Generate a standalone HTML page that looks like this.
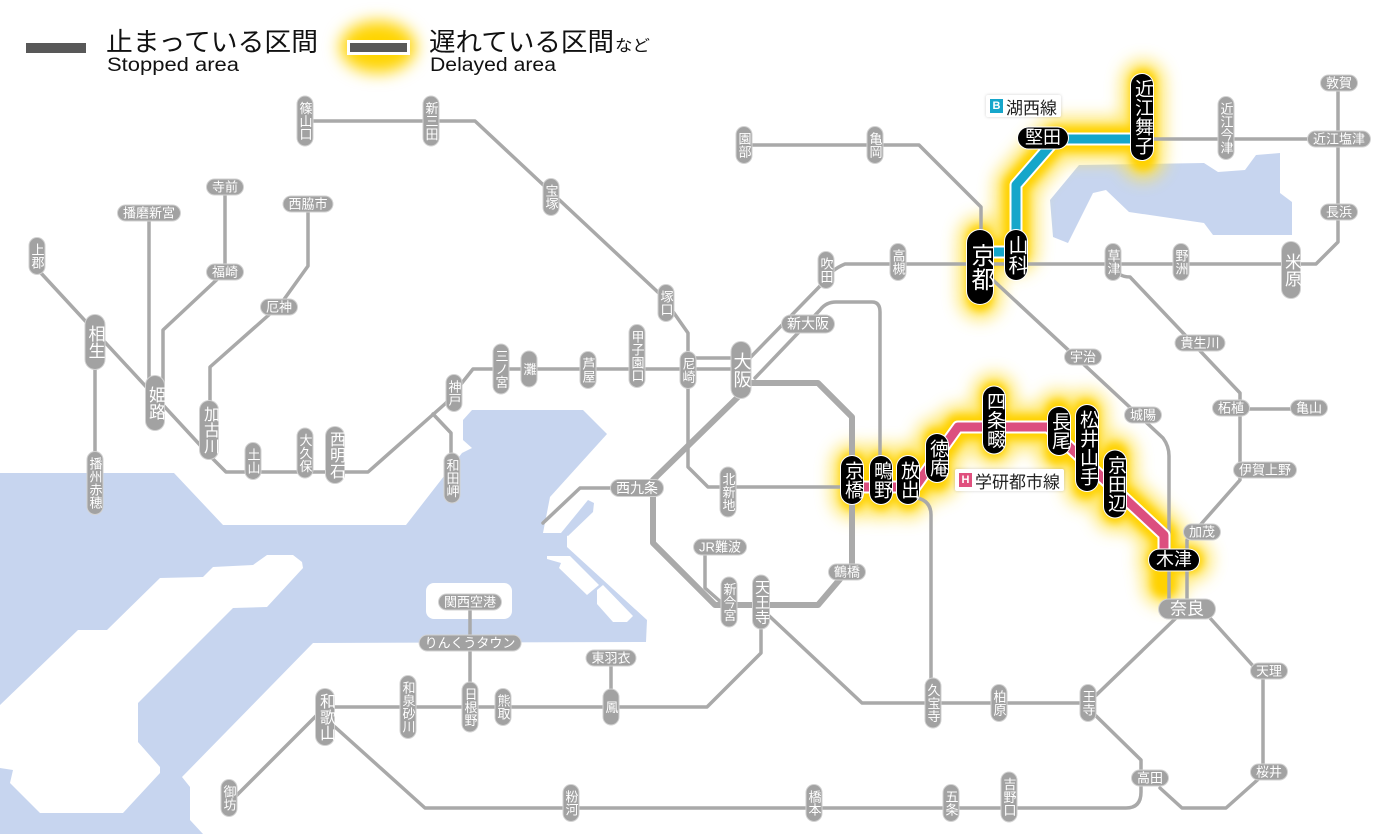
<!DOCTYPE html>
<html><head><meta charset="utf-8">
<style>
html,body{margin:0;padding:0;background:#fff;}
#c{position:relative;width:1400px;height:834px;overflow:hidden;background:#fff;font-family:"Liberation Sans","Noto Sans CJK JP",sans-serif;}
svg{position:absolute;left:0;top:0;}
.p{position:absolute;transform:translate(-50%,-50%);background:#a2a2a2;color:#fff;border-radius:9px;box-shadow:0 0 0 1px #d2d2d2;white-space:nowrap;text-align:center;font-family:"Liberation Sans","Noto Sans CJK JP",sans-serif;}
.v{writing-mode:vertical-rl;text-orientation:upright;font-size:13px;line-height:15px;width:15px;padding:5px 0;}
.h{font-size:13px;line-height:15px;height:15px;padding:0 5px;}
.k{background:#000;box-shadow:0 0 0 1px #fff;border-radius:11px;}
.kv{writing-mode:vertical-rl;text-orientation:upright;font-size:19px;line-height:22px;width:22px;padding:5px 0;}
.kh{font-size:18px;line-height:21px;height:21px;padding:0 7px;}
.lb{position:absolute;background:#fff;box-shadow:0 0 3px rgba(0,0,0,0.18);display:flex;align-items:center;font-family:"Liberation Sans","Noto Sans CJK JP",sans-serif;font-size:17px;color:#222;height:22px;padding:0 4px;border-radius:2px;}
.sq{display:inline-block;width:13px;height:14px;color:#fff;font-size:11px;line-height:14px;text-align:center;font-weight:bold;margin-right:3px;}
</style></head>
<body><div id="c">
<svg width="1400" height="834" viewBox="0 0 1400 834">
<defs>
<filter id="b8" x="-50%" y="-50%" width="200%" height="200%"><feGaussianBlur stdDeviation="8"/></filter>
<filter id="b4" x="-50%" y="-50%" width="200%" height="200%"><feGaussianBlur stdDeviation="4"/></filter>
</defs>
<!-- water -->
<g fill="#c7d5ef">
<polygon points="0,473 174,473 223,525 406,525 462,453 472,448 463,440 463,420 472,410 583,410 607,434 550,497 543,533 567,533 567,547 647,620 646,642 313,643 182,777 190,787 190,820 203,834 0,834"/>
<polygon points="588,500 594,503 593,512 568,536 561,533"/>
<polygon points="1050,200 1079,165 1204,163 1218,172 1245,170 1256,155 1280,153 1280,193 1292,202 1292,235 1213,235 1204,223 1129,212 1106,190 1093,193 1068,243 1053,237"/>
</g>
<g fill="#fff">
<polygon points="0,705 78,630 107,630 160,578 203,577 213,567 253,565 267,555 293,555 302,562 303,568 267,607 233,608 143,698 138,703 138,742 160,767 160,773 123,813 40,813 10,783 13,770 0,768"/>
<polygon points="547,559 561,563 559,568 587,595 599,585 570,556 547,556"/>
<polygon points="597,590 603,585 633,616 627,622 613,622 597,604"/>
<rect x="426" y="583" width="86" height="36" rx="8"/>
</g>
<!-- legend -->
<ellipse cx="378" cy="47" rx="38" ry="26" fill="#ffd400" filter="url(#b8)"/>
<rect x="26" y="43" width="60" height="10" fill="#585858"/>
<rect x="347" y="40" width="63" height="15" fill="#fff"/>
<rect x="350" y="43" width="57" height="9" fill="#585858"/>
<g font-family="'Liberation Sans','Noto Sans CJK JP',sans-serif" fill="#111">
<text x="106" y="51" font-size="26" textLength="212" lengthAdjust="spacingAndGlyphs">止まっている区間</text>
<text x="107" y="71" font-size="19" textLength="132" lengthAdjust="spacingAndGlyphs">Stopped area</text>
<text x="429" y="51" font-size="26" textLength="185" lengthAdjust="spacingAndGlyphs">遅れている区間</text>
<text x="615" y="51" font-size="16" textLength="35" lengthAdjust="spacingAndGlyphs">など</text>
<text x="430" y="71" font-size="19" textLength="126" lengthAdjust="spacingAndGlyphs">Delayed area</text>
</g>
<!-- glow -->
<g fill="none" stroke-linecap="round" stroke-linejoin="round">
<path d="M980,238V298 M983,252H1016V185L1056,139H1143 M1143,82V158" stroke="#ffe24a" stroke-width="44" filter="url(#b8)" opacity="0.8"/>
<path d="M980,238V298 M983,252H1016V185L1056,139H1143 M1143,82V158" stroke="#ffd200" stroke-width="26" filter="url(#b4)"/>
<path d="M853,465V497 M853,487H915L958,427H1048L1164,535V585 M881,465V497 M908,465V497 M937,440V478 M994,395V445 M1058,412V452 M1086,412V486 M1115,455V510 M1160,560H1190" stroke="#ffe24a" stroke-width="44" filter="url(#b8)" opacity="0.8"/>
<path d="M853,465V497 M853,487H915L958,427H1048L1164,535V585 M881,465V497 M908,465V497 M937,440V478 M994,395V445 M1058,412V452 M1086,412V486 M1115,455V510 M1160,560H1190" stroke="#ffd200" stroke-width="26" filter="url(#b4)"/>
</g>
<!-- gray lines -->
<g fill="none" stroke="#a9a9a9" stroke-width="3.5" stroke-linejoin="round" stroke-linecap="round">
<path d="M305,121H475L662,296L688,333V467L708,487H853"/>
<path d="M40,272L212,458L226,472H368L446,403L473,369H742"/>
<path d="M688,358H742"/>
<path d="M95,340V485"/>
<path d="M149,213V400"/>
<path d="M225,187V272L163,330V400"/>
<path d="M308,203V266L280,305L210,367V430"/>
<path d="M433,414L451,433V478"/>
<path d="M742,366L822,284Q830,270 845,264H1316L1338,242V83"/>
<path d="M755,378L820,310Q826,302 836,302H872Q880,302 880,312V480"/>
<path d="M745,145H919L981,207V235"/>
<path d="M980,268L1163,438Q1169,446 1169,456V605"/>
<path d="M1113,265Q1117,277 1130,277L1240,393V480L1187,540V605"/>
<path d="M1240,409H1310"/>
<path d="M1143,139H1339"/>
<path d="M765,612L862,703H1088L1176,618"/>
<path d="M1092,712L1141,760V792Q1141,808 1126,808H425L335,727"/>
<path d="M1160,788L1182,808H1226L1263,775V677L1210,618"/>
<path d="M761,630V653L707,707H325"/>
<path d="M470,602V707"/>
<path d="M611,658V707"/>
<path d="M705,547V588L722,603"/>
<path d="M615,488H580L543,523"/>
<path d="M908,497Q931,497 931,515V703"/>
<path d="M319,713L235,797"/>
<path d="M742,383H818L852,417V565L818,605H715L653,543V480L740,395" stroke-width="6" stroke="#aaaaaa"/>
</g>
<!-- colored lines -->
<g fill="none" stroke-linejoin="round">
<path d="M985,252H1016V185L1056,139H1143" stroke="#fff" stroke-width="13"/>
<path d="M985,252H1016V185L1056,139H1143" stroke="#15a6ca" stroke-width="9"/>
<path d="M853,487H915L958,427H1048L1164,535V558" stroke="#fff" stroke-width="13"/>
<path d="M853,487H915L958,427H1048L1164,535V558" stroke="#dc4f7f" stroke-width="9"/>
</g>
</svg>

<!-- line name labels -->
<div class="lb" style="left:986px;top:95px;"><span class="sq" style="background:#16a6cb">B</span>湖西線</div>
<div class="lb" style="left:955px;top:469px;"><span class="sq" style="background:#e0507e">H</span>学研都市線</div>

<!-- gray vertical -->
<div class="p v" style="left:305px;top:121px">篠山口</div>
<div class="p v" style="left:431px;top:121px">新三田</div>
<div class="p v" style="left:551px;top:197px">宝塚</div>
<div class="p v" style="left:37px;top:256px">上郡</div>
<div class="p v" style="left:95px;top:483px">播州赤穂</div>
<div class="p v" style="left:253px;top:461px">土山</div>
<div class="p v" style="left:305px;top:453px">大久保</div>
<div class="p v" style="left:454px;top:393px">神戸</div>
<div class="p v" style="left:452px;top:478px">和田岬</div>
<div class="p v" style="left:501px;top:369px">三ノ宮</div>
<div class="p v" style="left:529px;top:369px;padding:11px 0">灘</div>
<div class="p v" style="left:588px;top:370px">芦屋</div>
<div class="p v" style="left:637px;top:356px">甲子園口</div>
<div class="p v" style="left:688px;top:370px">尼崎</div>
<div class="p v" style="left:666px;top:303px">塚口</div>
<div class="p v" style="left:728px;top:492px">北新地</div>
<div class="p v" style="left:729px;top:602px">新今宮</div>
<div class="p v" style="left:744px;top:145px">園部</div>
<div class="p v" style="left:875px;top:145px">亀岡</div>
<div class="p v" style="left:826px;top:270px">吹田</div>
<div class="p v" style="left:898px;top:262px">高槻</div>
<div class="p v" style="left:1113px;top:262px">草津</div>
<div class="p v" style="left:1181px;top:262px">野洲</div>
<div class="p v" style="left:1226px;top:128px">近江今津</div>
<div class="p v" style="left:933px;top:703px">久宝寺</div>
<div class="p v" style="left:999px;top:703px">柏原</div>
<div class="p v" style="left:1088px;top:703px">王寺</div>
<div class="p v" style="left:1009px;top:797px">吉野口</div>
<div class="p v" style="left:951px;top:803px">五条</div>
<div class="p v" style="left:814px;top:803px">橋本</div>
<div class="p v" style="left:571px;top:803px">粉河</div>
<div class="p v" style="left:229px;top:798px">御坊</div>
<div class="p v" style="left:408px;top:707px">和泉砂川</div>
<div class="p v" style="left:470px;top:707px">日根野</div>
<div class="p v" style="left:503px;top:707px">熊取</div>
<div class="p v" style="left:611px;top:707px;padding:11px 0">鳳</div>

<!-- gray vertical medium -->
<div class="p v" style="left:95px;top:342px;font-size:17px;line-height:19px;width:19px;padding:10px 0;border-radius:10px">相生</div>
<div class="p v" style="left:155px;top:403px;font-size:17px;line-height:18px;width:18px;padding:10px 0;border-radius:10px">姫路</div>
<div class="p v" style="left:209px;top:430px;font-size:16px;line-height:18px;width:18px;padding:5px 0;border-radius:10px">加古川</div>
<div class="p v" style="left:335px;top:455px;font-size:16px;line-height:18px;width:18px;padding:4px 0;border-radius:10px">西明石</div>
<div class="p v" style="left:741px;top:370px;font-size:18px;line-height:19px;width:19px;padding:10px 0;border-radius:10px">大阪</div>
<div class="p v" style="left:325px;top:717px;font-size:16px;line-height:18px;width:18px;padding:4px 0;border-radius:10px">和歌山</div>
<div class="p v" style="left:761px;top:602px;font-size:15px;line-height:16px;width:16px;padding:4px 0;border-radius:9px">天王寺</div>
<div class="p v" style="left:1291px;top:270px;font-size:17px;line-height:18px;width:18px;padding:11px 0;border-radius:10px">米原</div>

<!-- gray horizontal -->
<div class="p h" style="left:225px;top:187px">寺前</div>
<div class="p h" style="left:149px;top:213px">播磨新宮</div>
<div class="p h" style="left:308px;top:204px">西脇市</div>
<div class="p h" style="left:225px;top:272px">福崎</div>
<div class="p h" style="left:279px;top:307px">厄神</div>
<div class="p h" style="left:808px;top:324px;font-size:14px;line-height:17px;height:17px">新大阪</div>
<div class="p h" style="left:637px;top:488px;font-size:14px;line-height:16px;height:16px">西九条</div>
<div class="p h" style="left:720px;top:547px">JR難波</div>
<div class="p h" style="left:847px;top:572px">鶴橋</div>
<div class="p h" style="left:470px;top:602px">関西空港</div>
<div class="p h" style="left:470px;top:643px">りんくうタウン</div>
<div class="p h" style="left:611px;top:658px">東羽衣</div>
<div class="p h" style="left:1083px;top:357px">宇治</div>
<div class="p h" style="left:1143px;top:415px">城陽</div>
<div class="p h" style="left:1200px;top:343px">貴生川</div>
<div class="p h" style="left:1231px;top:408px">柘植</div>
<div class="p h" style="left:1309px;top:408px">亀山</div>
<div class="p h" style="left:1265px;top:470px">伊賀上野</div>
<div class="p h" style="left:1202px;top:532px">加茂</div>
<div class="p h" style="left:1269px;top:671px">天理</div>
<div class="p h" style="left:1269px;top:772px">桜井</div>
<div class="p h" style="left:1150px;top:778px">高田</div>
<div class="p h" style="left:1339px;top:139px">近江塩津</div>
<div class="p h" style="left:1339px;top:83px">敦賀</div>
<div class="p h" style="left:1339px;top:212px">長浜</div>
<div class="p h" style="left:1187px;top:609px;font-size:17px;line-height:19px;height:19px;padding:0 11px;border-radius:10px">奈良</div>

<!-- black vertical -->
<div class="p k kv" style="left:980px;top:267px;font-size:24px;line-height:26px;width:26px;padding:13px 0;border-radius:13px">京都</div>
<div class="p k kv" style="left:1016px;top:255px;font-size:20px;line-height:22px;width:22px">山科</div>
<div class="p k kv" style="left:1142px;top:117px">近江舞子</div>
<div class="p k kv" style="left:852px;top:480px">京橋</div>
<div class="p k kv" style="left:881px;top:480px">鴫野</div>
<div class="p k kv" style="left:908px;top:480px">放出</div>
<div class="p k kv" style="left:937px;top:458px">徳庵</div>
<div class="p k kv" style="left:994px;top:420px">四条畷</div>
<div class="p k kv" style="left:1059px;top:431px">長尾</div>
<div class="p k kv" style="left:1087px;top:448px">松井山手</div>
<div class="p k kv" style="left:1115px;top:484px">京田辺</div>

<!-- black horizontal -->
<div class="p k kh" style="left:1043px;top:138px">堅田</div>
<div class="p k kh" style="left:1174px;top:560px">木津</div>
</div></body></html>
